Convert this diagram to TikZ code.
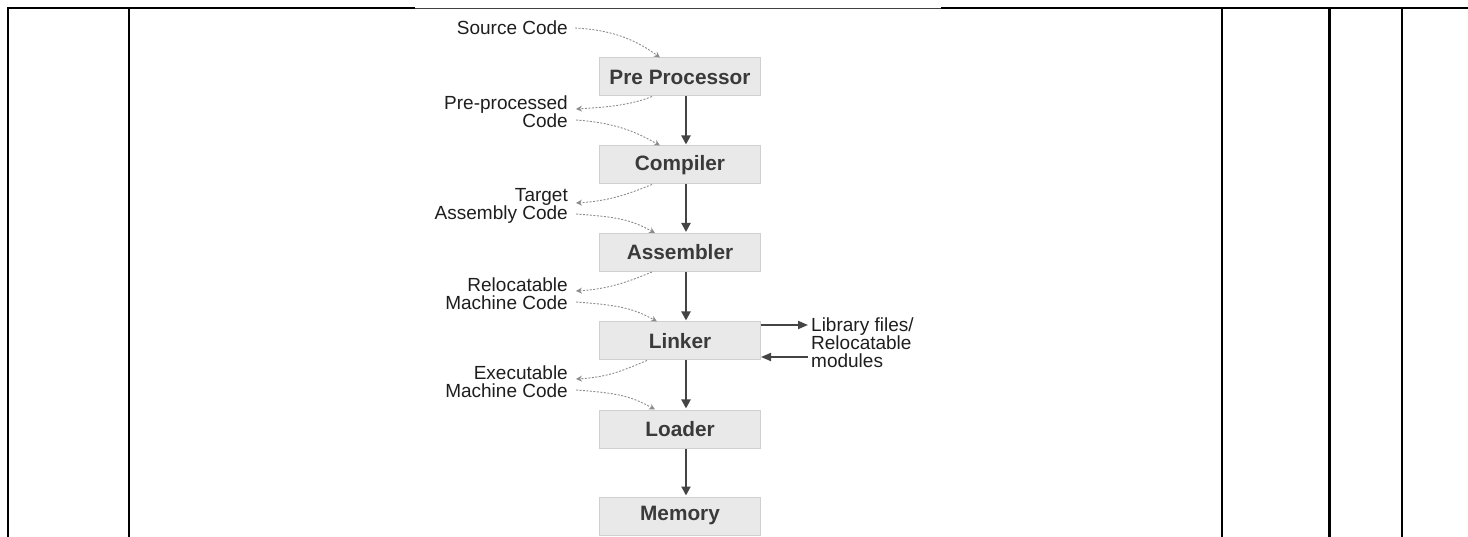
\documentclass[tikz,border=0pt]{standalone}
\usepackage{fontspec}
\setmainfont{Liberation Sans}
\usetikzlibrary{arrows.meta}
\definecolor{boxfill}{HTML}{E9E9E9}
\definecolor{boxline}{HTML}{D0D0D0}
\definecolor{boxtext}{HTML}{3A3A3A}
\definecolor{flowc}{HTML}{444444}
\definecolor{dotc}{HTML}{8C8C8C}
\definecolor{labc}{HTML}{1E1E1E}
\begin{document}
\begin{tikzpicture}[x=1pt,y=-1pt,
 stagebox/.style={draw=boxline, line width=1pt, fill=boxfill, minimum width=161pt, minimum height=38pt, inner sep=0pt, text=boxtext, font=\fontsize{20.8}{22}\selectfont\bfseries},
 lab/.style={inner sep=0pt, align=right, anchor=east, text=labc, font=\fontsize{19}{18}\selectfont},
 sidelab/.style={inner sep=0pt, align=left, anchor=west, text=labc, font=\fontsize{19}{18}\selectfont},
 flow/.style={draw=flowc, line width=2pt, -{Triangle[length=9pt,width=9pt]}, shorten >=1pt},
 sideflow/.style={draw=flowc, line width=1.8pt, -{Triangle[length=10pt,width=8pt]}},
 dotflow/.style={draw=dotc, line width=0.9pt, dash pattern=on 2pt off 1.5pt, -{Stealth[length=6pt,width=6pt]}},
 rule/.style={line width=2.2pt, black},
]
\useasboundingbox (0,0) rectangle (1468,537);
% table frame
\draw[rule] (7.2,8.3) -- (415,8.3);
\draw[line width=1pt, black!75] (415,8.3) -- (941,8.3);
\draw[rule] (941,8.3) -- (1468,8.3);
\foreach \xx in {8.3,129.3,1222,1329.5,1402}
  \draw[rule] (\xx,7.2) -- (\xx,537);
% stages
\node[stagebox] (pp) at (680,77) {Pre Processor};
\node[stagebox] (comp) at (680,165) {Compiler};
\node[stagebox] (asm) at (680,252.5) {Assembler};
\node[stagebox] (link) at (680,341) {Linker};
\node[stagebox] (load) at (680,429) {Loader};
\node[stagebox] (mem) at (680,516) {Memory};
\draw[flow] ([xshift=6pt]pp.south) -- ([xshift=6pt]comp.north);
\draw[flow] ([xshift=6pt]comp.south) -- ([xshift=6pt]asm.north);
\draw[flow] ([xshift=6pt]asm.south) -- ([xshift=6pt]link.north);
\draw[flow] ([xshift=6pt]link.south) -- ([xshift=6pt]load.north);
\draw[flow] ([xshift=6pt]load.south) -- ([xshift=6pt]mem.north);
% side labels
\node[lab] (src) at (568,28) {Source Code};
\node[lab] (ppc) at (568,112) {Pre-processed\\Code};
\node[lab] (tac) at (568,206) {Target\\Assembly Code};
\node[lab] (rmc) at (568,294) {Relocatable\\Machine Code};
\node[lab] (emc) at (568,382) {Executable\\Machine Code};
\node[sidelab] (lib) at (811,343) {Library files/\\Relocatable\\modules};
\draw[sideflow] ([yshift=16pt]link.east) -- ([xshift=-3pt,yshift=18pt]lib.west);
\draw[sideflow] ([xshift=-3pt,yshift=-14pt]lib.west) -- ([yshift=-16pt]link.east);
% dotted flows
\draw[dotflow] ([xshift=7pt]src.east) .. controls +(40,2) and +(-22,-16) .. ([xshift=-20pt]pp.north);
\draw[dotflow] ([xshift=-28pt]pp.south) .. controls +(-20,8) and +(35,-2) .. ([xshift=8pt,yshift=3pt]ppc.east);
\draw[dotflow] ([xshift=8pt,yshift=-8pt]ppc.east) .. controls +(40,3) and +(-25,-14) .. ([xshift=-20pt]comp.north);
\draw[dotflow] ([xshift=-28pt]comp.south) .. controls +(-20,8) and +(35,-2) .. ([xshift=8pt,yshift=3pt]tac.east);
\draw[dotflow] ([xshift=8pt,yshift=-8pt]tac.east) .. controls +(40,3) and +(-25,-14) .. ([xshift=-25pt]asm.north);
\draw[dotflow] ([xshift=-28pt]asm.south) .. controls +(-20,8) and +(35,-2) .. ([xshift=8pt,yshift=3pt]rmc.east);
\draw[dotflow] ([xshift=8pt,yshift=-8pt]rmc.east) .. controls +(40,3) and +(-25,-14) .. ([xshift=-23pt]link.north);
\draw[dotflow] ([xshift=-33pt]link.south) .. controls +(-20,8) and +(35,-2) .. ([xshift=8pt,yshift=3pt]emc.east);
\draw[dotflow] ([xshift=8pt,yshift=-8pt]emc.east) .. controls +(40,3) and +(-25,-14) .. ([xshift=-25pt]load.north);
\end{tikzpicture}
\end{document}
